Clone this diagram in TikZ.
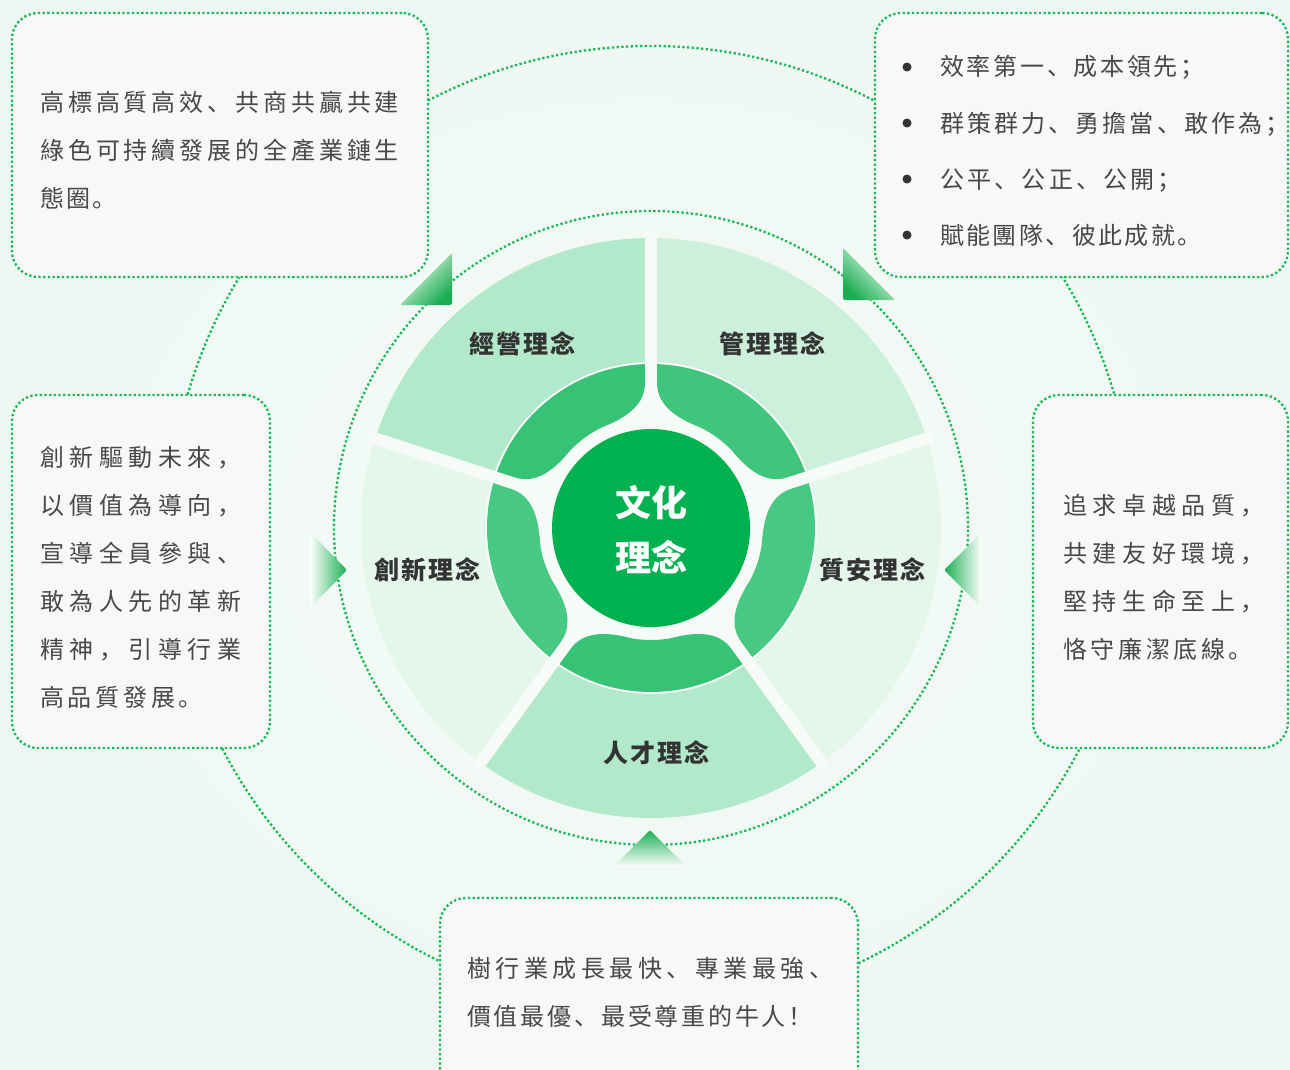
\documentclass[tikz,border=0pt]{standalone}
\usepackage{fontspec}
\setmainfont{Noto Sans CJK SC}
\ExplSyntaxOn
\NewDocumentCommand\spc{m m}{\exp_args:No \tl_map_inline:nn {#2} {##1\hspace{#1}}}
\ExplSyntaxOff
\definecolor{bgc}{HTML}{F6FBF8}
\definecolor{bgo}{HTML}{EEF8F2}
\definecolor{dotg}{HTML}{19B95A}
\definecolor{segA}{HTML}{B2E9CB}
\definecolor{segB}{HTML}{CDF0DC}
\definecolor{segC}{HTML}{E5F6EC}
\definecolor{midA}{HTML}{37C376}
\definecolor{midB}{HTML}{3FC57C}
\definecolor{midC}{HTML}{47C983}
\definecolor{core}{HTML}{00B14F}
\definecolor{txt}{HTML}{484848}
\definecolor{lblc}{HTML}{333333}
\definecolor{boxfill}{HTML}{F8F8F8}
\definecolor{arrg}{HTML}{1AAE52}
\tikzset{
  dotline/.style={draw=dotg, line width=2.3pt, dash pattern=on 2.3pt off 2.4pt},
  infobox/.style={dotline, fill=boxfill, rounded corners=26pt, inner sep=0pt, outer sep=0pt},
  boxtxt/.style={anchor=base west, inner sep=0pt, text=txt, font=\fontsize{24}{28}\selectfont},
  lbl/.style={text=lblc, inner sep=0pt, font=\bfseries\fontsize{25}{30}\selectfont},
  ctr/.style={text=white, inner sep=0pt, font=\bfseries\fontsize{36}{40}\selectfont},
  arrowfade/.style={top color=arrg, middle color=arrg!28!white, bottom color=white, rounded corners=2pt},
}
\begin{document}
\begin{tikzpicture}[x=1pt, y=-1pt]
\useasboundingbox (0,0) rectangle (1290,1070);
\shade[inner color=bgc, outer color=bgo] (0,0) rectangle (1290,1070);

% outer connecting circle
\draw[dotline] (651,528) circle[radius=482];

% wheel
\begin{scope}[shift={(651,528)}, y=1pt]
  \fill[segA] (0,0) -- (90:290) arc[start angle=90, end angle=162, radius=290] -- cycle;
  \fill[segB] (0,0) -- (18:290) arc[start angle=18, end angle=90, radius=290] -- cycle;
  \fill[segC] (0,0) -- (-54:290) arc[start angle=-54, end angle=18, radius=290] -- cycle;
  \fill[segA] (0,0) -- (-126:290) arc[start angle=-126, end angle=-54, radius=290] -- cycle;
  \fill[segC] (0,0) -- (162:290) arc[start angle=162, end angle=234, radius=290] -- cycle;
  \fill[bgc] (0,0) circle[radius=166];
  \foreach \g in {90,18,-54,-126,162}
    \draw[bgc, line width=12pt] (\g:140) -- (\g:296);
  \foreach \a/\c in {90/midA, 18/midB, -54/midC, -126/midA, 162/midC}{
    \fill[\c] ({\a+72-2.1}:164) -- ({\a+72-2.4}:145)
      .. controls ({\a+72-2.8}:124) and ({\a+72-12}:113) .. ({\a+72-26}:112)
      arc[start angle={\a+72-26}, end angle={\a+26}, radius=112]
      .. controls ({\a+12}:113) and ({\a+2.8}:124) .. ({\a+2.4}:145)
      -- ({\a+2.1}:164)
      arc[start angle={\a+2.1}, end angle={\a+72-2.1}, radius=164] -- cycle;
  }
  \fill[core] (0,0) circle[radius=99];
  \draw[dotline] (0,0) circle[radius=317];
\end{scope}

% arrows pointing to the wheel
\shade[arrowfade] (650,830) -- (687,867) -- (613,867) -- cycle;
\shade[arrowfade, shading angle=-90] (347,570) -- (310,608) -- (310,532) -- cycle;
\shade[arrowfade, shading angle=90] (944,570) -- (982,532) -- (982,608) -- cycle;
\shade[arrowfade, shading angle=-135] (452,305) -- (452,253) -- (400,305) -- cycle;
\shade[arrowfade, shading angle=135] (843,300) -- (895,300) -- (843,248) -- cycle;

% labels
\node[ctr] (c1) at (651,503) {文化};
\node[ctr] (c2) at (651,557) {理念};
\node[lbl] (jy) at (522,344) {\spc{2pt}{經營理念}};
\node[lbl] (gl) at (772,344) {\spc{2pt}{管理理念}};
\node[lbl] (cx) at (427,570) {\spc{2pt}{創新理念}};
\node[lbl] (za) at (872,570) {\spc{2pt}{質安理念}};
\node[lbl] (rc) at (656,753) {\spc{2pt}{人才理念}};

% boxes
\node[infobox, minimum width=416pt, minimum height=264pt] (bTL) at (220,145) {};
\node[infobox, minimum width=413pt, minimum height=264pt] (bTR) at (1081.5,145) {};
\node[infobox, minimum width=258pt, minimum height=353pt] (bL) at (141,571.5) {};
\node[infobox, minimum width=255pt, minimum height=353pt] (bR) at (1160.5,571.5) {};
\node[infobox, minimum width=418pt, minimum height=197pt] (bB) at (649,996.5) {};

% box texts
\foreach \t/\s [count=\i] in {高標高質高效、共商共贏共建/3.9, 綠色可持續發展的全產業鏈生/3.9, 態圈。/2.2}
  \node[boxtxt] (tl\i) at (40,{112+(\i-1)*47.5}) {\spc{\s pt}{\t}};
\foreach \t/\s [count=\i] in {效率第一、成本領先；/2.7, 群策群力、勇擔當、敢作為；/3.1, 公平、公正、公開；/3.2, 賦能團隊、彼此成就。/2.4}{
  \fill[lblc] (907,{67+(\i-1)*56}) circle[radius=4.5];
  \node[boxtxt] (tr\i) at (940,{76+(\i-1)*56}) {\spc{\s pt}{\t}};
}
\foreach \t/\s [count=\i] in {創新驅動未來，/5.5, 以價值為導向，/5.5, 宣導全員參與、/5.5, 敢為人先的革新/5.5, 精神，引導行業/5.5, 高品質發展。/3.75}
  \node[boxtxt] (lt\i) at (40,{466+(\i-1)*48}) {\spc{\s pt}{\t}};
\foreach \t/\s [count=\i] in {追求卓越品質，/5.6, 共建友好環境，/5.6, 堅持生命至上，/5.6, 恪守廉潔底線。/3.6}
  \node[boxtxt] (rt\i) at (1063,{514+(\i-1)*48}) {\spc{\s pt}{\t}};
\foreach \t/\s [count=\i] in {樹行業成長最快、專業最強、/4.5, 價值最優、最受尊重的牛人！/2.8}
  \node[boxtxt] (bt\i) at (467,{977+(\i-1)*48}) {\spc{\s pt}{\t}};
\end{tikzpicture}
\end{document}
